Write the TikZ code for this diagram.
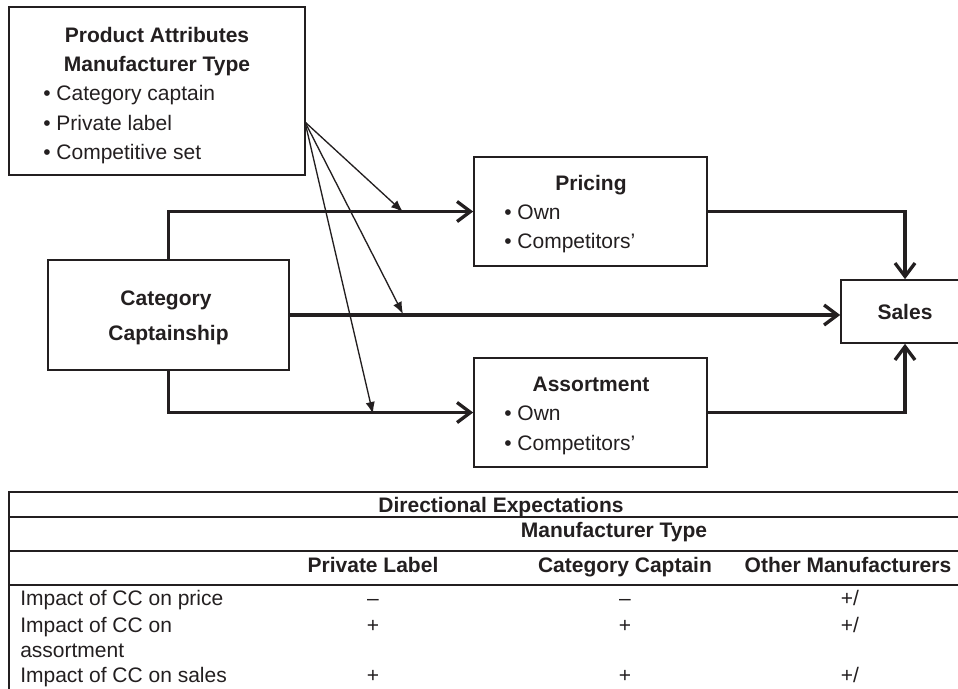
\documentclass[tikz,border=0pt]{standalone}
\usepackage{fontspec}
\setmainfont{Liberation Sans}
\usetikzlibrary{arrows.meta}

\definecolor{ink}{HTML}{231F20}
\newcommand\labelsize{\fontsize{15.75}{19}\selectfont}

\tikzset{
  box/.style={draw=ink, line width=1.25pt, rectangle, inner sep=0pt},
  flow/.style={draw=ink, line width=2.5pt, -{Straight Barb[length=10pt,width=15pt]}},
  effect/.style={draw=ink, line width=1pt, -{Latex[length=9pt,width=7pt]}},
  rule/.style={draw=ink, line width=1.5pt},
  title/.style={inner sep=0pt, anchor=base, text=ink, font=\labelsize\bfseries},
  item/.style={inner sep=0pt, anchor=base west, text=ink, font=\labelsize},
  cell/.style={inner sep=0pt, anchor=base, text=ink, font=\labelsize},
}

\begin{document}
\begin{tikzpicture}[x=0.75pt, y=-0.75pt]
\useasboundingbox (0,0) rectangle (958,689);

% boxes
\node [box, minimum width=222pt, minimum height=126pt] (attr) at (157,91) {};
\node [box, minimum width=180.75pt, minimum height=82.5pt] (cc) at (168.5,315) {};
\node [box, minimum width=174.75pt, minimum height=81.75pt] (price) at (590.5,211.5) {};
\node [box, minimum width=174.75pt, minimum height=81.75pt] (assort) at (590.5,412.5) {};
\node [box, minimum width=96pt, minimum height=47.25pt, text=ink, font=\labelsize\bfseries] (sales) at (905,311.5) {Sales};

% box texts
\node [title] (attr1) at (157,42) {Product Attributes};
\node [title] (attr2) at (157,71) {Manufacturer Type};
\node [item] (attr3) at (43,100.5) {\textbullet\ Category captain};
\node [item] (attr4) at (43,130) {\textbullet\ Private label};
\node [item] (attr5) at (43,159.5) {\textbullet\ Competitive set};

\node [title] (cc1) at (166,305) {Category};
\node [title] (cc2) at (168.5,340) {Captainship};

\node [title] (price1) at (591,190) {Pricing};
\node [item] (price2) at (504,219) {\textbullet\ Own};
\node [item] (price3) at (504,248) {\textbullet\ Competitors'};

\node [title] (assort1) at (591,391) {Assortment};
\node [item] (assort2) at (504,420) {\textbullet\ Own};
\node [item] (assort3) at (504,450) {\textbullet\ Competitors'};

% thick connectors
\draw [flow] (cc.north) |- (price.west);
\draw [flow] (cc.south) |- (assort.west);
\draw [flow] (cc.east) -- (cc.east -| sales.west);
\draw [flow] (price.east) -| (sales.north);
\draw [flow] (assort.east) -| (sales.south);

% moderating effects
\coordinate (src) at (305,122);
\coordinate (hit1) at (403,212);
\coordinate (hit2) at (403,314);
\coordinate (hit3) at (373,414);
\draw [effect] (src) -- (hit1);
\draw [effect] (src) -- (hit2);
\draw [effect] (src) -- (hit3);

% table
\draw [rule] (9,492) -- (958,492);
\draw [rule] (9,517) -- (958,517);
\draw [rule] (9,551) -- (958,551);
\draw [rule] (9,585) -- (958,585);
\draw [rule] (9,491.25) -- (9,689);

\node [title] (dir) at (501,512) {Directional Expectations};
\node [title] (mtype) at (614,537) {Manufacturer Type};
\node [title] (colpl) at (373,572) {Private Label};
\node [title] (colcc) at (625,572) {Category Captain};
\node [title] (colom) at (848,572) {Other Manufacturers};

\node [item] (row1) at (20,605) {Impact of CC on price};
\node [item] (row2) at (20,632) {Impact of CC on};
\node [item] (row2b) at (20,657) {assortment};
\node [item] (row3) at (20,682) {Impact of CC on sales};

\node [cell] (v11) at (373,605) {–};
\node [cell] (v12) at (625,605) {–};
\node [cell] (v13) at (850,605) {+/};
\node [cell] (v21) at (373,632) {+};
\node [cell] (v22) at (625,632) {+};
\node [cell] (v23) at (850,632) {+/};
\node [cell] (v31) at (373,682) {+};
\node [cell] (v32) at (625,682) {+};
\node [cell] (v33) at (850,682) {+/};
\end{tikzpicture}
\end{document}
